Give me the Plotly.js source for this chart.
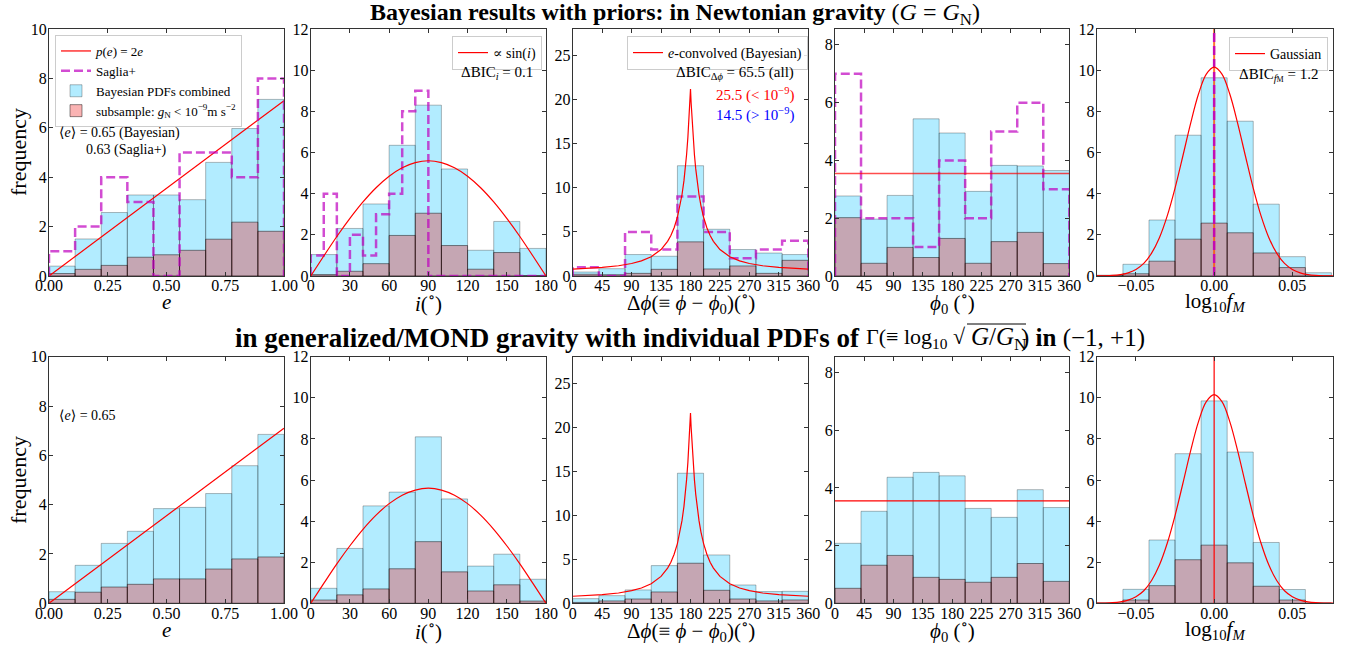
<!DOCTYPE html>
<html>
<head>
<meta charset="utf-8">
<script src="https://cdn.plot.ly/plotly-3.0.1.min.js"></script>
<style>html,body{margin:0;padding:0;background:#fff;}</style>
</head>
<body>
<div id="chart" style="width:1348px;height:646px;"></div>
<script>
// ---------------- DATA ----------------
const eCenters = [0.0556,0.1667,0.2778,0.3889,0.5,0.6111,0.7222,0.8333,0.9444];
const eEdges = [0,0.1111,0.2222,0.3333,0.4444,0.5556,0.6667,0.7778,0.8889,1];
const iCenters = [10,30,50,70,90,110,130,150,170];
const iSagliaEdges = [0,10,20,30,40,50,60,70,80,90,100,110,120,130,140,150,160,170,180];
const phiCenters = [20,60,100,140,180,220,260,300,340];
const phiEdges = [0,40,80,120,160,200,240,280,320,360];
const fCenters = [-0.06667,-0.05,-0.03333,-0.01667,0,0.01667,0.03333,0.05,0.06667];

// Newtonian (top row)
const eBlueTop = [0.4,1.5,2.57,3.28,3.28,3.09,4.6,5.97,7.15];
const ePinkTop = [0.1,0.27,0.43,0.76,0.86,1.04,1.49,2.18,1.81];
const eSaglia = [1,2,4,3,0,5,5,4,8];
const iBlueTop = [1.04,2.31,3.5,6.35,8.3,5.2,1.25,2.65,1.34];
const iPinkTop = [0.07,0.23,0.6,1.97,3.05,1.48,0.33,1.14,0.02];
const iSaglia = [1,4,0,2,1,3,4,8,9,0,0,0,0,0,0,0,0,0];
const dphiBlueTop = [0.45,0.83,2.43,2.24,12.5,5.3,3.0,2.6,2.43];
const dphiPinkTop = [0.2,0.15,0.3,0.76,3.87,0.8,1.14,0.3,1.78];
const dphiSaglia = [1,0,5,3,9,5,2,3,4];
const phi0BlueTop = [2.77,1.97,2.79,5.44,4.95,2.93,3.83,3.81,3.65];
const phi0PinkTop = [2.02,0.44,0.99,0.64,1.3,0.44,1.19,1.51,0.43];
const phi0Saglia = [7,2,2,1,4,2,5,6,3];
const fBlueTop = [0.04,0.57,2.72,6.84,9.63,7.52,3.49,0.94,0.16];
const fPinkTop = [0.01,0.11,0.72,1.79,2.57,2.1,1.12,0.41,0.0];
const fSagliaX = [0,0];
const fSagliaY = [0,12];

// MOND (bottom row)
const eBlueBot = [0.47,1.54,2.43,2.92,3.84,3.89,4.45,5.58,6.85];
const ePinkBot = [0.16,0.45,0.66,0.77,0.99,0.99,1.39,1.8,1.88];
const iBlueBot = [0.73,2.67,4.74,5.41,8.1,5.08,1.81,2.39,1.17];
const iPinkBot = [0.16,0.41,0.7,1.68,3.0,1.53,0.6,0.9,0.11];
const dphiBlueBot = [0.53,0.87,1.52,4.28,14.77,5.49,2.08,1.33,1.36];
const dphiPinkBot = [0.1,0.27,0.49,1.29,4.55,1.48,0.49,0.27,0.38];
const phi0BlueBot = [2.08,3.19,4.37,4.54,4.42,3.29,2.98,3.94,3.32];
const phi0PinkBot = [0.52,1.32,1.66,0.9,0.83,0.73,0.9,1.38,0.76];
const fBlueBot = [0.02,0.68,3.08,7.28,9.85,7.36,2.96,0.67,0.02];
const fPinkBot = [0.0,0.16,0.86,2.12,2.83,1.97,0.83,0.16,0.0];

// model curves
const eLineX = [0,1];
const eLineY = [0,7.1];
const sinX = [0,10,20,30,40,50,60,70,80,90,100,110,120,130,140,150,160,170,180];
const sinY = [0,0.97,1.92,2.8,3.6,4.29,4.85,5.26,5.51,5.6,5.51,5.26,4.85,4.29,3.6,2.8,1.92,0.97,0];
const dphiCurveX = [0,20,45,70,90,105,120,135,145,150,155,160,164,167,170,172,174,176,177,178,179,180,
  181,182,183,184,186,188,190,193,196,200,205,210,215,225,240,255,270,290,315,340,360];
const dphiCurveTop = [0.79,0.85,0.97,1.16,1.42,1.72,2.19,3.0,3.93,4.59,5.47,6.66,7.95,9.21,10.81,12.14,13.75,15.71,16.86,18.14,19.58,21.2,
  19.58,18.14,16.86,15.71,13.75,12.14,10.81,9.21,7.95,6.66,5.47,4.59,3.93,3.0,2.19,1.72,1.42,1.16,0.97,0.85,0.79];
const dphiCurveBot = [0.8,0.86,0.98,1.17,1.44,1.74,2.22,3.05,4.0,4.67,5.57,6.78,8.09,9.38,11.01,12.37,14.01,16.0,17.18,18.48,19.95,21.6,
  19.95,18.48,17.18,16.0,14.01,12.37,11.01,9.38,8.09,6.78,5.57,4.67,4.0,3.05,2.22,1.74,1.44,1.17,0.98,0.86,0.8];
const flatX = [0,360];
const flatY = [3.55,3.55];
const gaussX = [-0.0751,-0.07,-0.065,-0.06,-0.055,-0.05,-0.045,-0.04,-0.035,-0.03,-0.025,-0.02,-0.015,-0.01,-0.005,0,
  0.005,0.01,0.015,0.02,0.025,0.03,0.035,0.04,0.045,0.05,0.055,0.06,0.065,0.07,0.0762];
const gaussY = [0.004,0.011,0.029,0.069,0.154,0.32,0.61,1.11,1.86,2.92,4.27,5.83,7.43,8.84,9.81,10.15,
  9.81,8.84,7.43,5.83,4.27,2.92,1.86,1.11,0.61,0.32,0.154,0.069,0.029,0.011,0.004];
const vlineX = [0,0];
const vlineY = [0,12];

// ---------------- STYLE ----------------
const FONT = 'Liberation Serif, DejaVu Serif, serif';
const BLUE = 'rgba(0,191,255,0.3)';
const BLUE_EDGE = 'rgba(0,0,0,0.28)';
const PINK = 'rgba(240,20,20,0.32)';
const PINK_EDGE = 'rgba(0,0,0,0.45)';
const MAG = 'rgba(191,0,191,0.7)';

const traces = [];
const axn = k => (k===1?'':k);
function bars(k, centers, vals, width, color, edge, name, show, rank) {
  traces.push({type:'bar', x:centers, y:vals, width:width, xaxis:'x'+axn(k), yaxis:'y'+axn(k),
    marker:{color:color, line:{color:edge, width:1}}, name:name||'', showlegend:!!show, legend:'legend', legendrank:rank||1000,
    hoverinfo:'skip'});
}
function line(k, x, y, color, width, opts) {
  traces.push(Object.assign({type:'scatter', mode:'lines', x:x, y:y, xaxis:'x'+axn(k), yaxis:'y'+axn(k),
    line:{color:color, width:width}, showlegend:false, hoverinfo:'skip', cliponaxis:true}, opts||{}));
}
function step(k, edges, vals, name, show) {
  const x=[edges[0]], y=[0];
  for (let j=0;j<vals.length;j++){ x.push(edges[j]); y.push(vals[j]); }
  x.push(edges[edges.length-1]); y.push(0);
  line(k, x, y, MAG, 2.5, {line:{color:MAG,width:2.5,dash:'9px,4px',shape:'hv'}, name:name||'', showlegend:!!show, legend:'legend', legendrank:2});
}

// top row
bars(1, eCenters, eBlueTop, 0.1111, BLUE, BLUE_EDGE, 'Bayesian PDFs combined', true, 3);
bars(1, eCenters, ePinkTop, 0.1111, PINK, PINK_EDGE, 'subsample: <i>g</i><sub>N</sub> &lt; 10<sup>−9</sup>m s<sup>−2</sup>', true, 4);
line(1, eLineX, eLineY, 'red', 1.2, {name:'<i>p</i>(<i>e</i>) = 2<i>e</i>', showlegend:true, legend:'legend', legendrank:1});
step(1, eEdges, eSaglia, 'Saglia+', true);

bars(2, iCenters, iBlueTop, 20, BLUE, BLUE_EDGE);
bars(2, iCenters, iPinkTop, 20, PINK, PINK_EDGE);
step(2, iSagliaEdges, iSaglia);
line(2, sinX, sinY, 'red', 1.2, {line:{color:'red',width:1.2,shape:'spline'}, name:'∝ sin(<i>i</i>)', showlegend:true, legend:'legend2'});

bars(3, phiCenters, dphiBlueTop, 40, BLUE, BLUE_EDGE);
bars(3, phiCenters, dphiPinkTop, 40, PINK, PINK_EDGE);
step(3, phiEdges, dphiSaglia);
line(3, dphiCurveX, dphiCurveTop, 'red', 1.2, {name:'<i>e</i>-convolved (Bayesian)', showlegend:true, legend:'legend3'});

bars(4, phiCenters, phi0BlueTop, 40, BLUE, BLUE_EDGE);
bars(4, phiCenters, phi0PinkTop, 40, PINK, PINK_EDGE);
step(4, phiEdges, phi0Saglia);
line(4, flatX, flatY, 'rgba(255,0,0,0.7)', 1.6);

bars(5, fCenters, fBlueTop, 0.016667, BLUE, BLUE_EDGE);
bars(5, fCenters, fPinkTop, 0.016667, PINK, PINK_EDGE);
line(5, vlineX, vlineY, 'rgba(255,80,0,0.8)', 2);
line(5, fSagliaX, fSagliaY, MAG, 2.5, {line:{color:'rgba(191,0,191,0.9)',width:2.5,dash:'9px,4px'}});
line(5, gaussX, gaussY, 'red', 1.2, {line:{color:'red',width:1.2,shape:'spline'}, name:'Gaussian', showlegend:true, legend:'legend4'});

// bottom row
bars(6, eCenters, eBlueBot, 0.1111, BLUE, BLUE_EDGE);
bars(6, eCenters, ePinkBot, 0.1111, PINK, PINK_EDGE);
line(6, eLineX, eLineY, 'red', 1.2);
bars(7, iCenters, iBlueBot, 20, BLUE, BLUE_EDGE);
bars(7, iCenters, iPinkBot, 20, PINK, PINK_EDGE);
line(7, sinX, sinY, 'red', 1.2, {line:{color:'red',width:1.2,shape:'spline'}});
bars(8, phiCenters, dphiBlueBot, 40, BLUE, BLUE_EDGE);
bars(8, phiCenters, dphiPinkBot, 40, PINK, PINK_EDGE);
line(8, dphiCurveX, dphiCurveBot, 'red', 1.2);
bars(9, phiCenters, phi0BlueBot, 40, BLUE, BLUE_EDGE);
bars(9, phiCenters, phi0PinkBot, 40, PINK, PINK_EDGE);
line(9, flatX, flatY, 'red', 1.2);
bars(10, fCenters, fBlueBot, 0.016667, BLUE, BLUE_EDGE);
bars(10, fCenters, fPinkBot, 0.016667, PINK, PINK_EDGE);
line(10, vlineX, vlineY, 'red', 1.2);
line(10, gaussX, gaussY, 'red', 1.2, {line:{color:'red',width:1.2,shape:'spline'}});

// ---------------- LAYOUT ----------------
const W = 1348, H = 646;
const xPx = [[49,284],[310.7,546],[572.7,808.3],[835,1069.3],[1096.7,1333.3]];
const xDom = xPx.map(d=>[d[0]/W, d[1]/W]);
const yDomTop = [1-276/H, 1-29/H];
const yDomBot = [1-603.3/H, 1-356.7/H];

const xRanges = [[0,1],[0,180],[0,360],[0,360],[-0.0751,0.0762]];
const yRanges = [[0,10],[0,12],[0,28],[0,8.55],[0,12]];
const xTicks = [[0,0.25,0.5,0.75,1],[0,30,60,90,120,150,180],[0,45,90,135,180,225,270,315,360],[0,45,90,135,180,225,270,315,360],[-0.05,0,0.05]];
const xTickText = [['0.00','0.25','0.50','0.75','1.00'],null,null,null,['−0.05','0.00','0.05']];
const yTicks = [[0,2,4,6,8,10],[0,2,4,6,8,10,12],[0,5,10,15,20,25],[0,2,4,6,8],[0,2,4,6,8,10,12]];
const xTitles = ['<i>e</i>','<i>i</i>(<sup>∘</sup>)','Δ<i>ϕ</i>(≡ <i>ϕ</i> − <i>ϕ</i><sub>0</sub>)(<sup>∘</sup>)','<i>ϕ</i><sub>0</sub> (<sup>∘</sup>)','log<sub>10</sub><i>f</i><sub><i>M</i></sub>'];

const layout = {
  width:W, height:H, autosize:false,
  margin:{l:0,r:0,t:0,b:0},
  paper_bgcolor:'#fff', plot_bgcolor:'rgba(0,0,0,0)',
  barmode:'overlay',
  font:{family:FONT, color:'#000', size:15},
  title:{text:'<b>Bayesian results with priors: in Newtonian gravity</b> (<i>G</i> = <i>G</i><sub>N</sub>)',
    x:675/W, xanchor:'center', y:1-12/H, yanchor:'middle', yref:'container', font:{family:FONT,size:24,color:'#000'}},
  showlegend:true,
  annotations:[],
  shapes:[],
  legend:{x:55/W, y:1-35/H, xanchor:'left', yanchor:'top', bgcolor:'rgba(255,255,255,0.85)', bordercolor:'#ccc', borderwidth:1,
    font:{family:FONT,size:13,color:'#000'}, traceorder:'normal', tracegroupgap:0},
  legend2:{x:452/W, y:1-36/H, xanchor:'left', yanchor:'top', bgcolor:'rgba(255,255,255,0.85)', bordercolor:'#ccc', borderwidth:1,
    font:{family:FONT,size:14,color:'#000'}},
  legend3:{x:627/W, y:1-36/H, xanchor:'left', yanchor:'top', bgcolor:'rgba(255,255,255,0.85)', bordercolor:'#ccc', borderwidth:1,
    font:{family:FONT,size:14,color:'#000'}},
  legend4:{x:1229/W, y:1-37/H, xanchor:'left', yanchor:'top', bgcolor:'rgba(255,255,255,0.85)', bordercolor:'#ccc', borderwidth:1,
    font:{family:FONT,size:14,color:'#000'}}
};

for (let k=1;k<=10;k++){
  const c = (k-1)%5, top = k<=5;
  const xa = {domain:xDom[c], range:xRanges[c], anchor:'y'+axn(k),
    showgrid:false, zeroline:false, showline:true, mirror:'ticks', linecolor:'#333', linewidth:1,
    ticks:'inside', ticklen:4, tickwidth:1, tickcolor:'#333', tickmode:'array', tickvals:xTicks[c],
    tickfont:{family:FONT,size:16,color:'#000'}, ticklabelstandoff:-5, fixedrange:true};
  if (xTickText[c]) xa.ticktext = xTickText[c];
  const ya = {domain: top?yDomTop:yDomBot, range:yRanges[c], anchor:'x'+axn(k),
    showgrid:false, zeroline:false, showline:true, mirror:'ticks', linecolor:'#333', linewidth:1,
    ticks:'inside', ticklen:4, tickwidth:1, tickcolor:'#333', tickmode:'array', tickvals:yTicks[c],
    tickfont:{family:FONT,size:16,color:'#000'}, ticklabelstandoff:-2, fixedrange:true};
  layout['xaxis'+axn(k)] = xa;
  layout['yaxis'+axn(k)] = ya;
}

function ann(text, xpx, ypx, anchor, color, size, extra){
  layout.annotations.push(Object.assign({text:text, x:xpx/W, y:1-ypx/H, xref:'paper', yref:'paper', xanchor:anchor, yanchor:'middle',
    showarrow:false, font:{family:FONT, size:size||14, color:color||'#000'}}, extra||{}));
}
// axis titles
for (let c=0;c<5;c++){
  const cx = (xPx[c][0]+xPx[c][1])/2;
  ann(xTitles[c], cx, 302, 'center', '#000', 21);
  ann(xTitles[c], cx, 630, 'center', '#000', 21);
}
ann('frequency', 18, 152, 'center', '#000', 22, {textangle:-90});
ann('frequency', 18, 480, 'center', '#000', 22, {textangle:-90});

ann('⟨<i>e</i>⟩ = 0.65 (Bayesian)', 57, 133, 'left');
ann('0.63 (Saglia+)', 84, 150, 'left');
ann('ΔBIC<sub><i>i</i></sub> = 0.1', 535, 73, 'right', '#000', 15);
ann('ΔBIC<sub>Δ<i>ϕ</i></sub> = 65.5 (all)', 796, 73, 'right', '#000', 15);
ann('25.5 (&lt; 10<sup>−9</sup>)', 796, 94, 'right', 'red', 15);
ann('14.5 (&gt; 10<sup>−9</sup>)', 796, 114, 'right', 'blue', 15);
ann('ΔBIC<sub><i>f</i><span style="font-size:8px">M</span></sub> = 1.2', 1320, 75, 'right', '#000', 15);
ann('⟨<i>e</i>⟩ = 0.65', 57, 415, 'left');
// second row title, in pieces so the square-root bar can sit over G/G_N
ann('<b>in generalized/MOND gravity with individual PDFs of</b>', 862, 338, 'right', '#000', 27);
ann('Γ(≡ log<sub>10</sub> √', 968, 338, 'right', '#000', 22);
ann('<i>G</i>/<i>G</i><sub>N</sub>', 969, 338, 'left', '#000', 25);
ann(') <b>in</b> (−1, +1)', 1147, 338, 'right', '#000', 25);
layout.shapes.push({type:'line', xref:'paper', yref:'paper', x0:967/W, x1:1026/W, y0:1-324/H, y1:1-324/H, line:{color:'#000', width:1}});

Plotly.newPlot('chart', traces, layout, {staticPlot:true, displayModeBar:false});
</script>
</body>
</html>
